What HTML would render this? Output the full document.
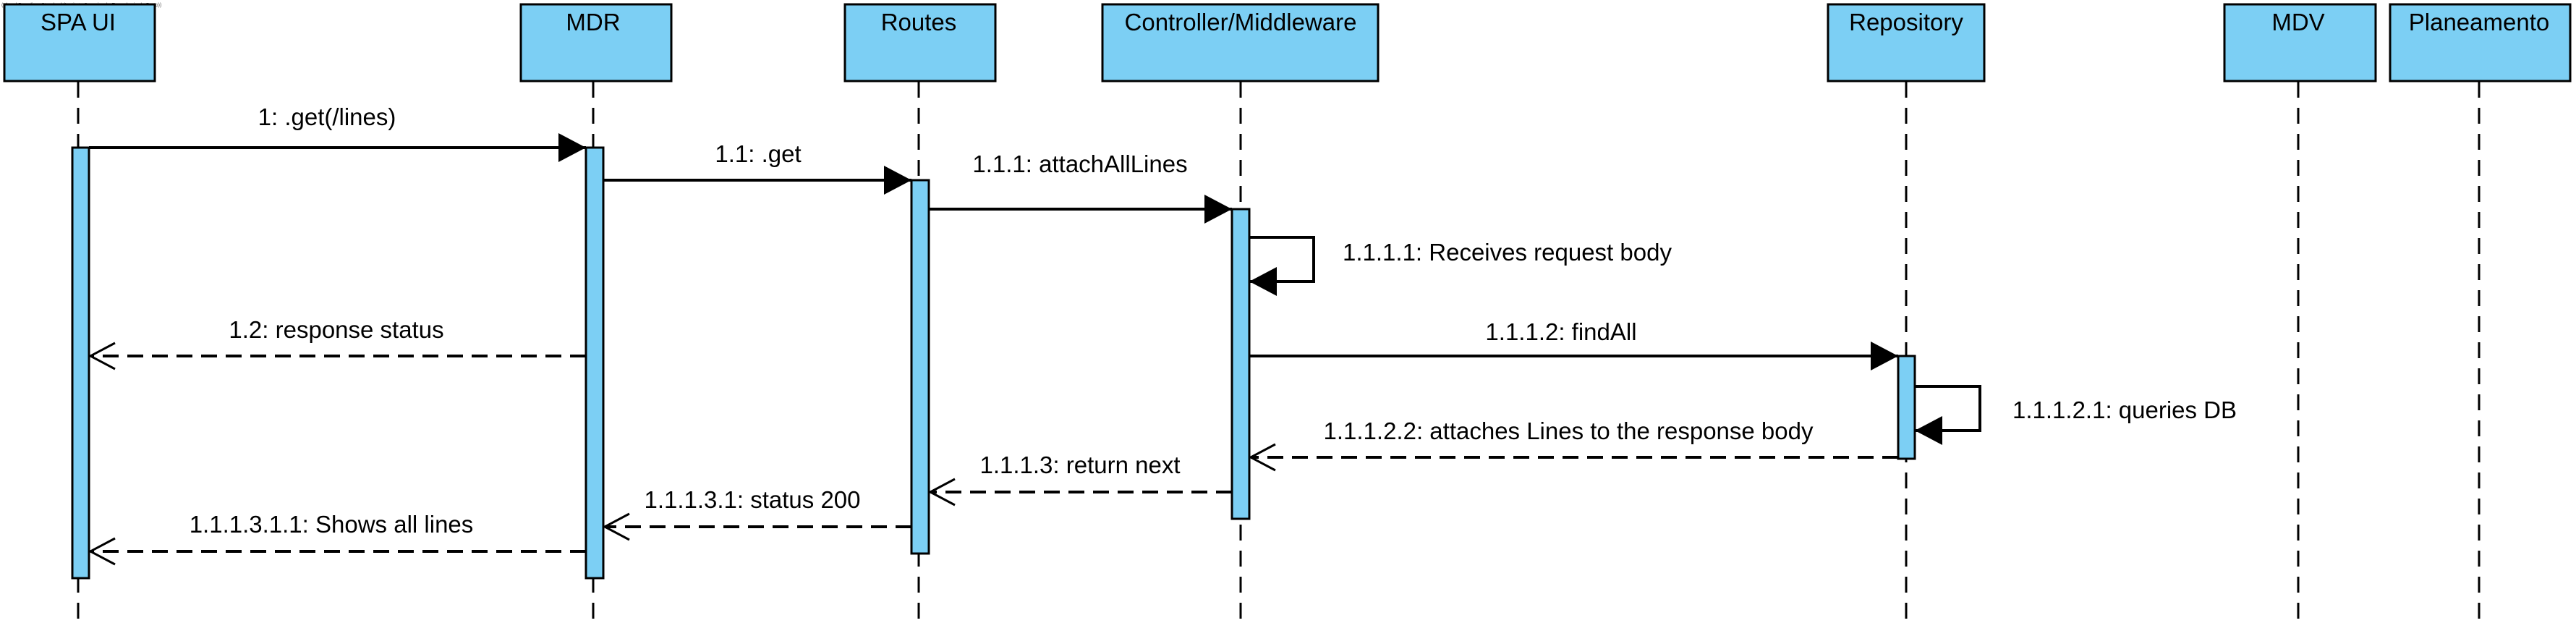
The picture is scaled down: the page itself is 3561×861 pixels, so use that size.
<!DOCTYPE html>
<html><head><meta charset="utf-8"><style>
html,body{margin:0;padding:0;background:#fff;width:3561px;height:861px;overflow:hidden}
text{font-family:"Liberation Sans",Arial,sans-serif;font-size:33px;fill:#000}
</style></head><body>
<svg width="3561" height="861" viewBox="0 0 3561 861" xmlns="http://www.w3.org/2000/svg">
<defs>
<marker id="f" markerWidth="40" markerHeight="40" refX="38" refY="20" orient="auto" markerUnits="userSpaceOnUse"><path d="M0,0 L38,20 L0,40 Z" fill="#000"/></marker>
<marker id="o" markerWidth="40" markerHeight="40" refX="36" refY="20" orient="auto" markerUnits="userSpaceOnUse"><path d="M2,2 L36,20 L2,38" fill="none" stroke="#000" stroke-width="3"/></marker>
</defs>
<text x="2" y="9" style="font-size:7px;fill:#555">(Visual Paradigm Standard (Instituto Superior de Engenharia do Porto))</text>
<g fill="#7ccff4" stroke="#000" stroke-width="3">
<rect x="6" y="6" width="208" height="106"/>
<rect x="720" y="6" width="208" height="106"/>
<rect x="1168" y="6" width="208" height="106"/>
<rect x="1524" y="6" width="381" height="106"/>
<rect x="2527" y="6" width="216" height="106"/>
<rect x="3075" y="6" width="209" height="106"/>
<rect x="3304" y="6" width="249" height="106"/>
</g>
<g text-anchor="middle">
<text x="108" y="42">SPA  UI</text>
<text x="820" y="42">MDR</text>
<text x="1270" y="42">Routes</text>
<text x="1715" y="42">Controller/Middleware</text>
<text x="2635" y="42">Repository</text>
<text x="3177" y="42">MDV</text>
<text x="3427" y="42">Planeamento</text>
</g>
<g stroke="#000" stroke-width="3" stroke-dasharray="22,14">
<line x1="108" y1="113" x2="108" y2="861"/>
<line x1="820" y1="113" x2="820" y2="861"/>
<line x1="1270" y1="113" x2="1270" y2="861"/>
<line x1="1715" y1="113" x2="1715" y2="861"/>
<line x1="2635" y1="113" x2="2635" y2="861"/>
<line x1="3177" y1="113" x2="3177" y2="861"/>
<line x1="3427" y1="113" x2="3427" y2="861"/>
</g>
<g fill="#7ccff4" stroke="#000" stroke-width="3">
<rect x="100" y="204" width="23" height="595"/>
<rect x="810" y="204" width="24" height="595"/>
<rect x="1260" y="249" width="24" height="516"/>
<rect x="1703" y="289" width="24" height="428"/>
<rect x="2624" y="492" width="23" height="142"/>
</g>
<g stroke="#000" stroke-width="4" fill="none">
<line x1="123" y1="204" x2="810" y2="204" marker-end="url(#f)"/>
<line x1="834" y1="249" x2="1260" y2="249" marker-end="url(#f)"/>
<line x1="1284" y1="289" x2="1703" y2="289" marker-end="url(#f)"/>
<polyline points="1727,328 1816,328 1816,389 1727,389" marker-end="url(#f)"/>
<line x1="1727" y1="492" x2="2624" y2="492" marker-end="url(#f)"/>
<polyline points="2647,534 2737,534 2737,595 2647,595" marker-end="url(#f)"/>
</g>
<g stroke="#000" stroke-width="4" fill="none" stroke-dasharray="22,12">
<line x1="810" y1="492" x2="125" y2="492" marker-end="url(#o)"/>
<line x1="2624" y1="632" x2="1729" y2="632" marker-end="url(#o)"/>
<line x1="1703" y1="680" x2="1286" y2="680" marker-end="url(#o)"/>
<line x1="1260" y1="728" x2="836" y2="728" marker-end="url(#o)"/>
<line x1="810" y1="762" x2="125" y2="762" marker-end="url(#o)"/>
</g>
<g text-anchor="middle">
<text x="452" y="173">1: .get(/lines)</text>
<text x="1048" y="224">1.1: .get</text>
<text x="1493" y="238">1.1.1: attachAllLines</text>
<text x="2158" y="470">1.1.1.2: findAll</text>
<text x="2168" y="607">1.1.1.2.2: attaches Lines to the response body</text>
<text x="1493" y="654">1.1.1.3: return next</text>
<text x="1040" y="702">1.1.1.3.1: status 200</text>
<text x="458" y="736">1.1.1.3.1.1: Shows all lines</text>
<text x="465" y="467">1.2: response status</text>
</g>
<text x="1856" y="360">1.1.1.1: Receives request body</text>
<text x="2782" y="578">1.1.1.2.1: queries DB</text>
</svg>
</body></html>
